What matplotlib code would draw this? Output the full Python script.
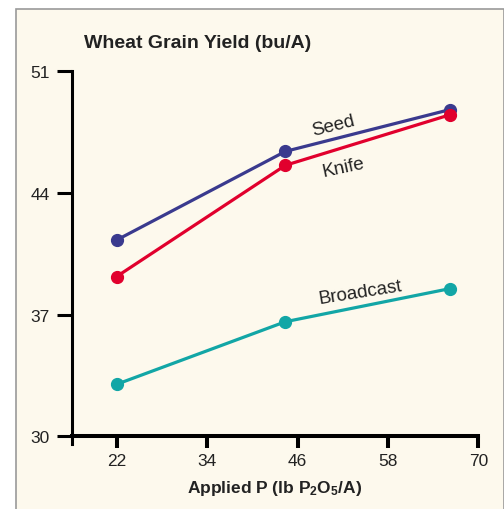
import matplotlib.pyplot as plt
from matplotlib.patches import Rectangle

# applied P rates (lb P2O5/A) and yields (bu/A)
rates = [22, 44.4, 66.2]
seed = [41.3, 46.4, 48.8]
knife = [39.2, 45.6, 48.5]
broadcast = [33.0, 36.6, 38.5]

x_ticks = [22, 34, 46, 58, 70]
y_ticks = [30, 37, 44, 51]

plt.rcParams['font.family'] = ['Liberation Sans', 'DejaVu Sans']
plt.rcParams['mathtext.fontset'] = 'custom'
plt.rcParams['mathtext.rm'] = 'Liberation Sans:bold'
plt.rcParams['mathtext.default'] = 'rm'

bg = '#fdf9ed'
txt = '#222222'

fig = plt.figure(figsize=(5.04, 5.10), dpi=100)
fig.patch.set_facecolor('white')
# cream panel with grey border
fig.patches.append(Rectangle((16 / 504, -0.05), 488 / 504, 1 - 10 / 510 + 0.05,
                             transform=fig.transFigure, facecolor=bg,
                             edgecolor='#9a9a9a', linewidth=1.2, zorder=-5))

ax = fig.add_axes([0.1419, 0.127, 0.8071, 0.731])
ax.set_facecolor('none')

ax.plot(rates, seed, color='#3a3a8e', lw=2.3, marker='o', ms=8.5, zorder=3)
ax.plot(rates, knife, color='#e1002d', lw=2.3, marker='o', ms=8.5, zorder=4)
ax.plot(rates, broadcast, color='#12a6a6', lw=2.3, marker='o', ms=8.5, zorder=3)

ax.text(50.7, 47.9, 'Seed', rotation=14, fontsize=13.5, color=txt,
        ha='center', va='center')
ax.text(52.1, 45.5, 'Knife', rotation=12, fontsize=13.5, color=txt,
        ha='center', va='center')
ax.text(54.3, 38.3, 'Broadcast', rotation=9, fontsize=13.5, color=txt,
        ha='center', va='center')

ax.set_xlim(16, 70)
ax.set_ylim(29.55, 51)
ax.spines['top'].set_visible(False)
ax.spines['right'].set_visible(False)
ax.spines['bottom'].set_position(('data', 30))
ax.spines['bottom'].set_linewidth(2.9)
ax.spines['left'].set_linewidth(2.2)
ax.spines['left'].set_bounds(29.55, 51)

ax.set_xticks(x_ticks)
ax.set_yticks(y_ticks)
ax.tick_params(axis='y', length=11, width=2.2, pad=4.5, labelsize=12.5, labelcolor=txt)
ax.tick_params(axis='x', length=8.5, width=2.9, pad=3.5, labelsize=12.5, labelcolor=txt)

ax.set_xlabel(r'Applied P (lb P$_2$O$_5$/A)', fontsize=12.5, fontweight='bold',
              color=txt, labelpad=7)
fig.text(84 / 504, 1 - 43 / 510, 'Wheat Grain Yield (bu/A)', fontsize=14,
         fontweight='bold', color=txt, ha='left', va='center')

fig.savefig('out.png', dpi=100, facecolor=fig.get_facecolor())
